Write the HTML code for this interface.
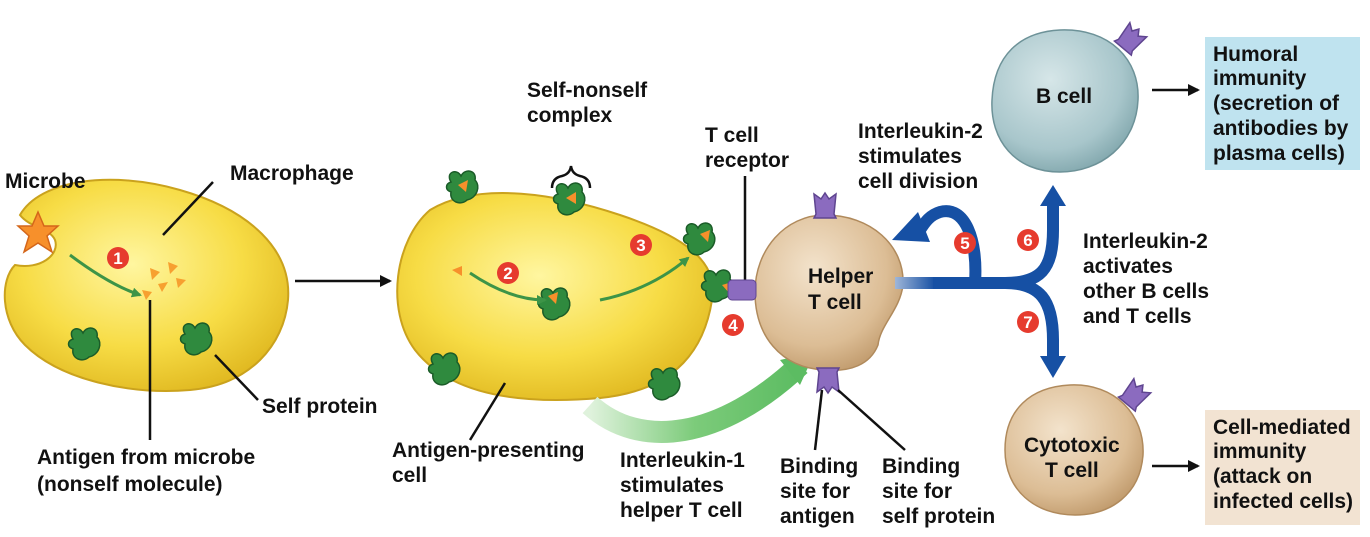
<!DOCTYPE html>
<html><head><meta charset="utf-8"><style>
body{margin:0;background:#fff;}
svg{display:block;font-family:"Liberation Sans",sans-serif;font-weight:bold;}
text{font-size:21px;fill:#111;}
.n{font-size:17px;fill:#fff;text-anchor:middle;}
</style></head><body>
<svg width="1370" height="537" viewBox="0 0 1370 537">
<defs>
<radialGradient id="yel" cx="45%" cy="40%" r="65%"><stop offset="0" stop-color="#fff6a0"/><stop offset="0.6" stop-color="#f7dc45"/><stop offset="1" stop-color="#e0b820"/></radialGradient>
<radialGradient id="tan" cx="40%" cy="35%" r="70%"><stop offset="0" stop-color="#f3e3cc"/><stop offset="0.7" stop-color="#dcbd95"/><stop offset="1" stop-color="#c09a6c"/></radialGradient>
<radialGradient id="blu" cx="40%" cy="35%" r="70%"><stop offset="0" stop-color="#d6e6e8"/><stop offset="0.7" stop-color="#a8c6cb"/><stop offset="1" stop-color="#7fa5ab"/></radialGradient>
<linearGradient id="grn" x1="0" x2="1"><stop offset="0" stop-color="#dff2dc"/><stop offset="0.5" stop-color="#7ccb7a"/><stop offset="1" stop-color="#5cbc62"/></linearGradient>
<linearGradient id="bl2" x1="0" x2="1"><stop offset="0" stop-color="#9fb6d8"/><stop offset="1" stop-color="#1650a4"/></linearGradient>
<marker id="ah" markerWidth="12" markerHeight="12" refX="10" refY="6" orient="auto" markerUnits="userSpaceOnUse"><path d="M0,0 L12,6 L0,12 z" fill="#111"/></marker>
<marker id="ga" markerWidth="10" markerHeight="10" refX="8" refY="5" orient="auto" markerUnits="userSpaceOnUse"><path d="M0,0 L10,5 L0,10 z" fill="#3d9447"/></marker>
<g id="prot"><path d="M-12,-6 C-18,-16 -6,-20 -2,-12 C2,-20 14,-18 12,-8 C18,-2 14,10 4,12 C-2,18 -14,14 -12,4 C-18,2 -18,-4 -12,-6z" fill="#2f8a3e" stroke="#1b5c28" stroke-width="1.5"/></g>
<g id="rec"><path d="M-11,-16 L-4,-11 L0,-17 L4,-11 L11,-16 L9,4 L11,8 L-11,8 L-9,4z" fill="#8b6bbf" stroke="#5f4590" stroke-width="1.5"/></g>
</defs>

<!-- Macrophage -->
<path d="M20,215 C40,180 110,170 180,190 C250,210 292,250 288,300 C284,345 250,385 190,390 C130,395 60,380 25,345 C0,320 0,280 15,265 C40,270 60,255 55,240 C50,228 30,228 20,215z" fill="url(#yel)" stroke="#caa21d" stroke-width="2"/>
<polygon points="38,212 44,226 58,226 47,236 52,252 38,243 24,252 29,236 18,226 32,226" fill="#f7902b" stroke="#d4661a" stroke-width="1.5"/>
<path d="M70,255 Q110,285 140,295" stroke="#3d9447" stroke-width="3" fill="none" marker-end="url(#ga)"/>
<g fill="#f7a030"><polygon points="150,268 160,272 152,280"/><polygon points="168,262 178,266 170,274"/><polygon points="158,284 168,282 162,292"/><polygon points="142,290 152,292 146,300"/><polygon points="176,278 186,280 178,288"/></g>
<use href="#prot" x="85" y="345"/><use href="#prot" x="197" y="340"/>
<circle cx="118" cy="258" r="11" fill="#e63b2e"/><text class="n" x="118" y="264">1</text>
<line x1="163" y1="235" x2="213" y2="182" stroke="#111" stroke-width="2.5"/>
<line x1="150" y1="300" x2="150" y2="440" stroke="#111" stroke-width="2.5"/>
<line x1="215" y1="355" x2="258" y2="400" stroke="#111" stroke-width="2.5"/>
<text x="5" y="188">Microbe</text>
<text x="230" y="180">Macrophage</text>
<text x="262" y="413">Self protein</text>
<text x="37" y="464">Antigen from microbe</text>
<text x="37" y="491">(nonself molecule)</text>
<line x1="295" y1="281" x2="390" y2="281" stroke="#111" stroke-width="2.5" marker-end="url(#ah)"/>

<!-- APC -->
<path d="M430,210 C480,180 560,195 620,215 C680,235 720,260 712,300 C705,345 680,390 600,398 C520,405 450,395 415,350 C385,310 395,240 430,210z" fill="url(#yel)" stroke="#caa21d" stroke-width="2"/>
<path d="M590,405 C640,450 720,440 800,365" stroke="url(#grn)" stroke-width="22" fill="none"/>
<polygon points="780,360 815,352 800,385" fill="#5cbc62"/>
<use href="#prot" x="463" y="188"/><use href="#prot" x="570" y="200"/><use href="#prot" x="700" y="240"/><use href="#prot" x="555" y="305"/><use href="#prot" x="445" y="370"/><use href="#prot" x="665" y="385"/><use href="#prot" x="718" y="287"/>
<g fill="#f7902b"><polygon points="458,185 468,180 466,192"/><polygon points="566,198 576,192 576,204"/><polygon points="452,270 462,266 462,276"/><polygon points="700,234 710,230 708,242"/><polygon points="722,285 732,282 730,294"/><polygon points="548,296 558,292 556,304"/></g>
<path d="M470,273 Q510,300 545,300" stroke="#3d9447" stroke-width="3" fill="none" marker-end="url(#ga)"/>
<path d="M600,300 Q650,290 688,258" stroke="#3d9447" stroke-width="3" fill="none" marker-end="url(#ga)"/>
<circle cx="508" cy="273" r="11" fill="#e63b2e"/><text class="n" x="508" y="279">2</text>
<circle cx="641" cy="245" r="11" fill="#e63b2e"/><text class="n" x="641" y="251">3</text>
<circle cx="733" cy="325" r="11" fill="#e63b2e"/><text class="n" x="733" y="331">4</text>
<path d="M552,188 Q552,178 562,176 Q570,174 571,166 Q572,174 580,176 Q590,178 590,188" stroke="#111" stroke-width="2.5" fill="none"/>
<text x="527" y="97">Self-nonself</text><text x="527" y="122">complex</text>
<text x="705" y="142">T cell</text><text x="705" y="167">receptor</text>
<line x1="745" y1="176" x2="745" y2="283" stroke="#111" stroke-width="2.5"/>
<line x1="505" y1="383" x2="470" y2="440" stroke="#111" stroke-width="2.5"/>
<text x="392" y="457">Antigen-presenting</text><text x="392" y="482">cell</text>
<text x="620" y="467">Interleukin-1</text><text x="620" y="492">stimulates</text><text x="620" y="517">helper T cell</text>

<!-- Helper T -->
<path d="M825,215 C870,215 905,245 903,285 C900,310 880,325 878,345 C870,365 850,372 825,370 C780,368 755,335 755,292 C755,250 785,215 825,215z" fill="url(#tan)" stroke="#b08a5c" stroke-width="1.5"/>
<g transform="translate(825,210)"><use href="#rec"/></g>
<g transform="translate(828,376) rotate(180)"><use href="#rec"/></g>
<rect x="728" y="280" width="28" height="20" rx="4" fill="#8b6bbf" stroke="#5f4590"/>
<text x="808" y="283">Helper</text><text x="808" y="309">T cell</text>
<line x1="822" y1="390" x2="815" y2="450" stroke="#111" stroke-width="2.5"/>
<line x1="838" y1="390" x2="905" y2="450" stroke="#111" stroke-width="2.5"/>
<text x="780" y="473">Binding</text><text x="780" y="498">site for</text><text x="780" y="523">antigen</text>
<text x="882" y="473">Binding</text><text x="882" y="498">site for</text><text x="882" y="523">self protein</text>

<!-- Blue arrows -->
<rect x="895" y="277" width="40" height="12" fill="url(#bl2)"/>
<path d="M933,283 L1010,283" stroke="#1650a4" stroke-width="12" fill="none"/>
<path d="M975,283 C978,240 965,205 940,212 C930,215 925,222 920,230" stroke="#1650a4" stroke-width="12" fill="none"/>
<polygon points="892,240 918,212 930,242" fill="#1650a4"/>
<path d="M1005,283 C1040,283 1053,270 1053,230 L1053,205" stroke="#1650a4" stroke-width="12" fill="none"/>
<polygon points="1053,185 1040,206 1066,206" fill="#1650a4"/>
<path d="M1005,283 C1040,283 1053,300 1053,340 L1053,360" stroke="#1650a4" stroke-width="12" fill="none"/>
<polygon points="1053,378 1040,356 1066,356" fill="#1650a4"/>
<circle cx="965" cy="243" r="11" fill="#e63b2e"/><text class="n" x="965" y="249">5</text>
<circle cx="1028" cy="240" r="11" fill="#e63b2e"/><text class="n" x="1028" y="246">6</text>
<circle cx="1028" cy="322" r="11" fill="#e63b2e"/><text class="n" x="1028" y="328">7</text>
<text x="858" y="138">Interleukin-2</text><text x="858" y="163">stimulates</text><text x="858" y="188">cell division</text>
<text x="1083" y="248">Interleukin-2</text><text x="1083" y="273">activates</text><text x="1083" y="298">other B cells</text><text x="1083" y="323">and T cells</text>

<!-- B cell -->
<path d="M1060,30 C1110,28 1140,60 1138,100 C1136,145 1100,172 1060,172 C1015,172 990,140 992,100 C994,55 1020,32 1060,30z" fill="url(#blu)" stroke="#6d9298" stroke-width="1.5"/>
<g transform="translate(1128,42) rotate(40)"><use href="#rec"/></g>
<text x="1036" y="103">B cell</text>
<line x1="1152" y1="90" x2="1198" y2="90" stroke="#111" stroke-width="2.5" marker-end="url(#ah)"/>
<rect x="1205" y="37" width="155" height="133" fill="#bfe3ef"/>
<text x="1213" y="61">Humoral</text><text x="1213" y="85">immunity</text><text x="1213" y="110">(secretion of</text><text x="1213" y="135">antibodies by</text><text x="1213" y="160">plasma cells)</text>

<!-- Cytotoxic -->
<path d="M1070,385 C1115,383 1145,415 1143,455 C1140,495 1110,515 1075,515 C1035,515 1005,490 1005,450 C1005,410 1030,387 1070,385z" fill="url(#tan)" stroke="#b08a5c" stroke-width="1.5"/>
<g transform="translate(1132,398) rotate(40)"><use href="#rec"/></g>
<text x="1024" y="452">Cytotoxic</text><text x="1045" y="477">T cell</text>
<line x1="1152" y1="466" x2="1198" y2="466" stroke="#111" stroke-width="2.5" marker-end="url(#ah)"/>
<rect x="1205" y="410" width="155" height="115" fill="#f2e3d2"/>
<text x="1213" y="434">Cell-mediated</text><text x="1213" y="458">immunity</text><text x="1213" y="483">(attack on</text><text x="1213" y="508">infected cells)</text>
</svg>
</body></html>
